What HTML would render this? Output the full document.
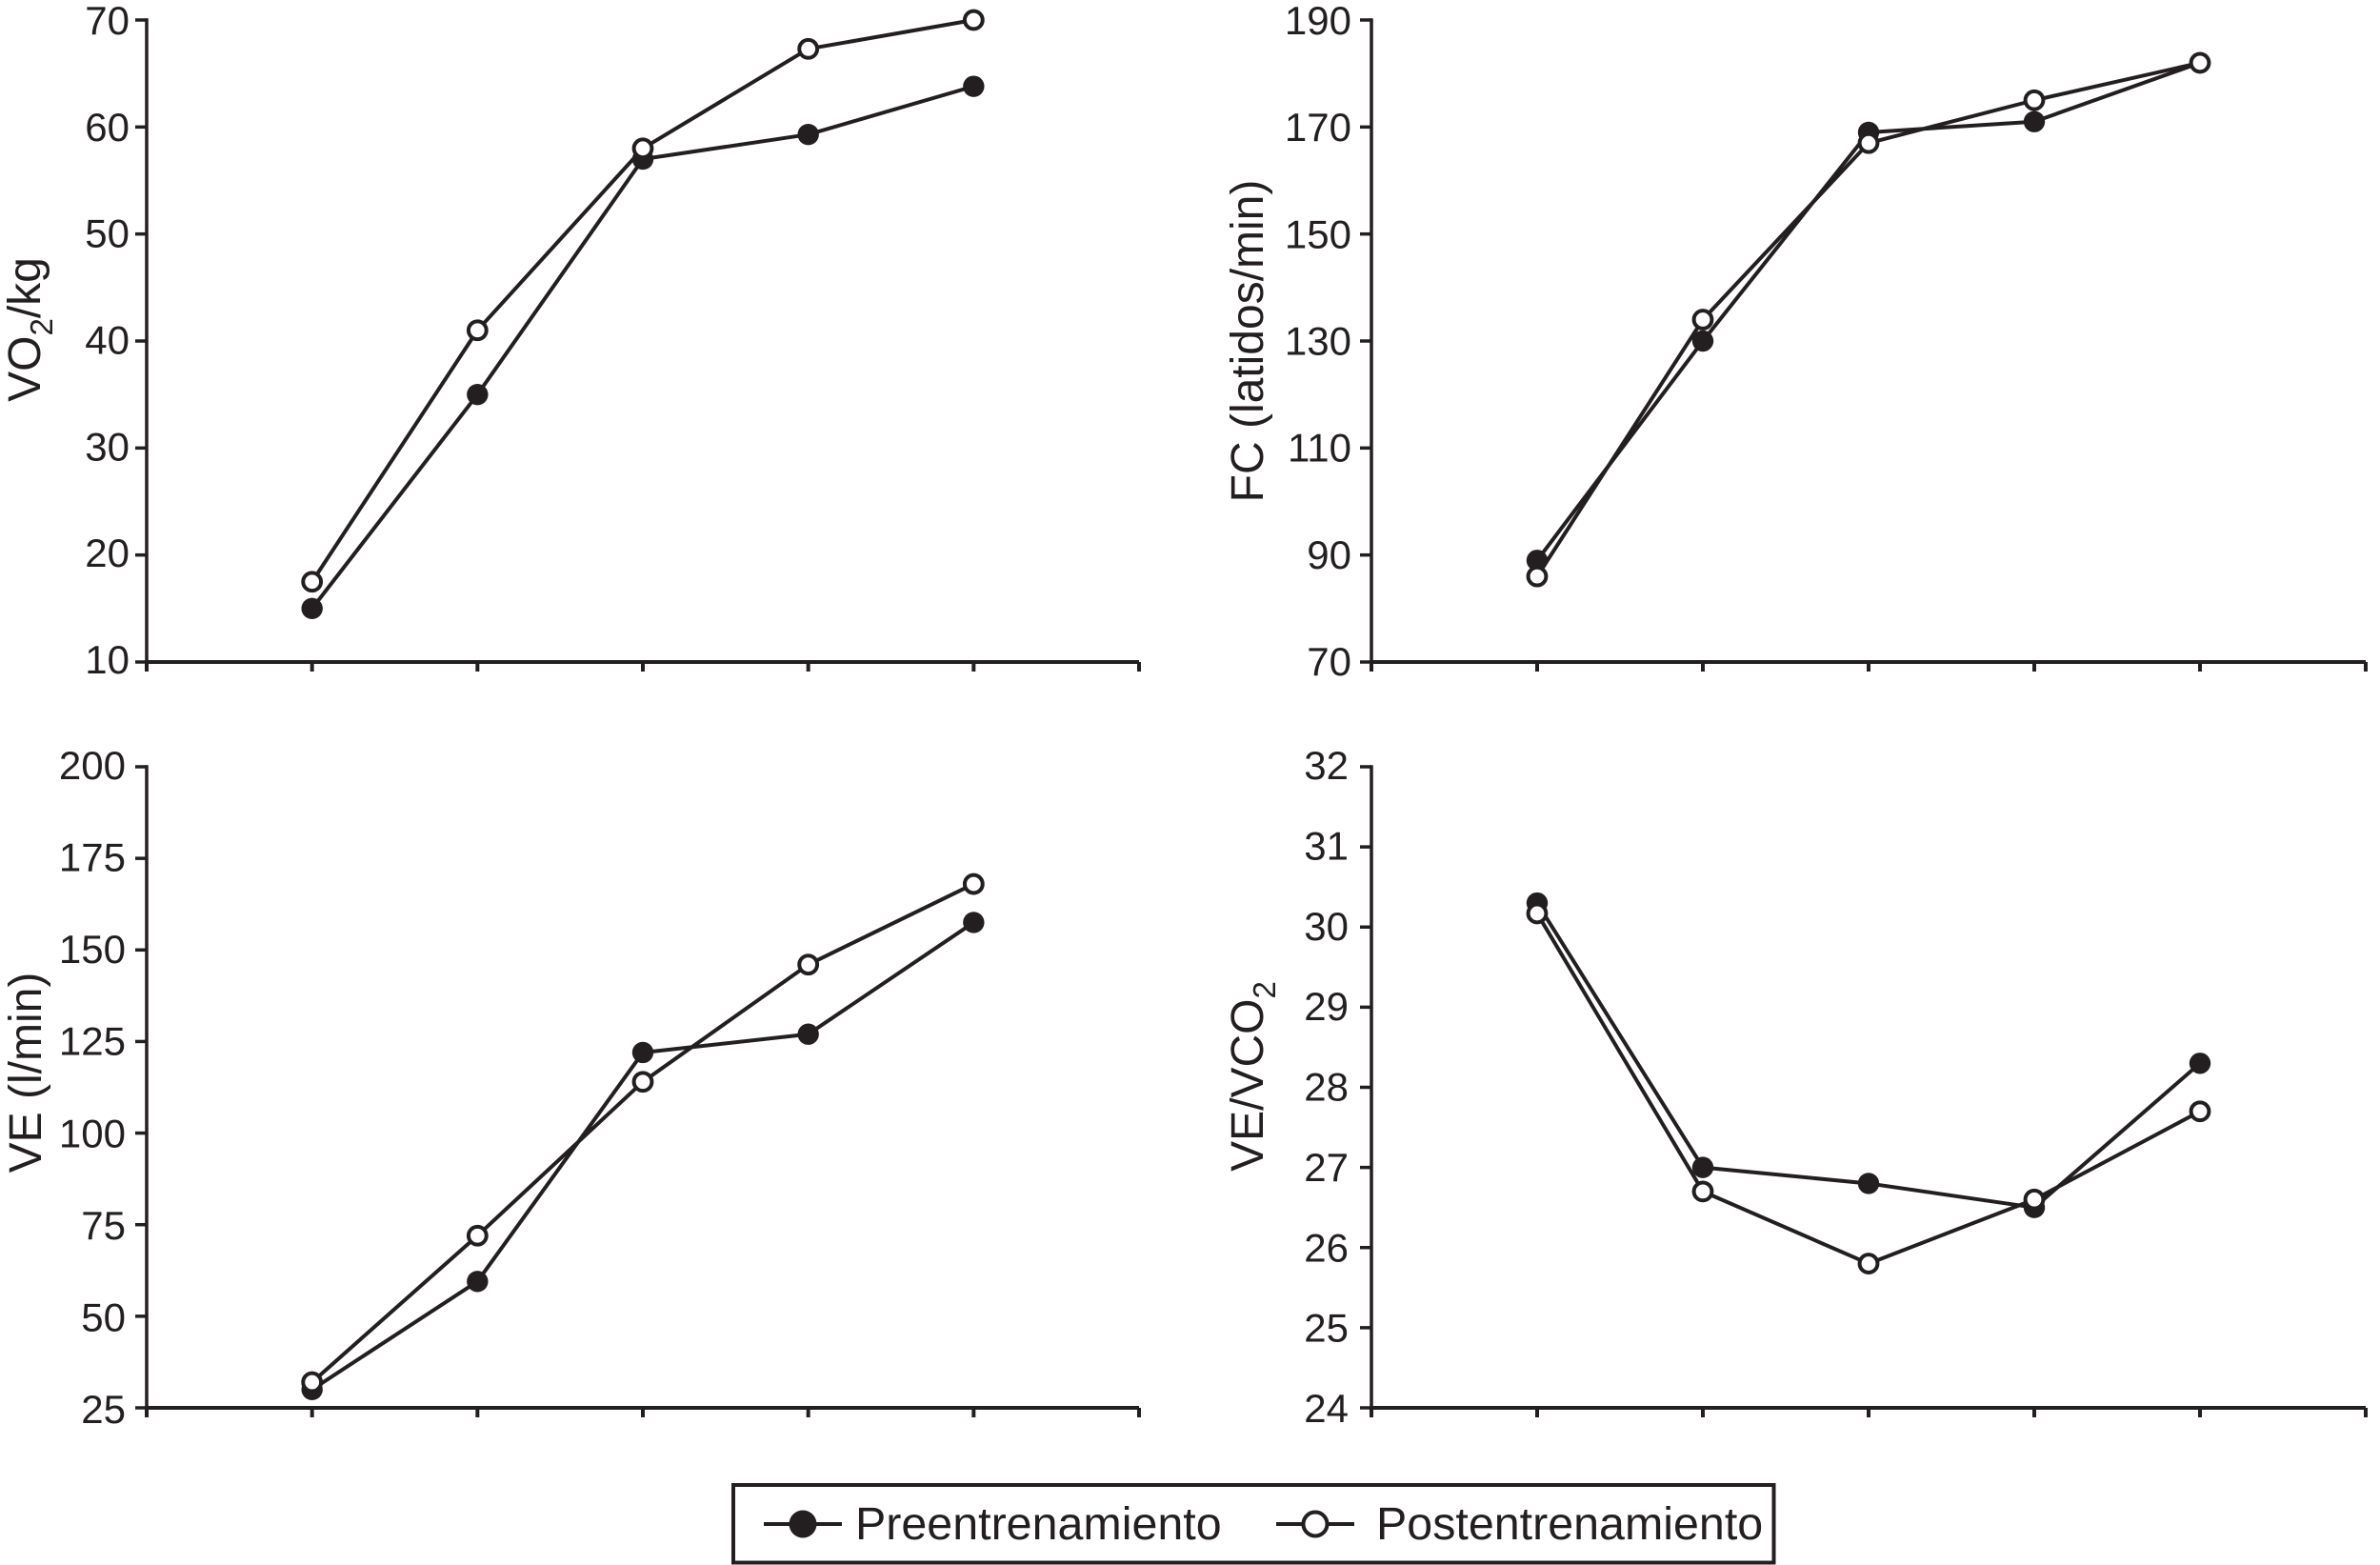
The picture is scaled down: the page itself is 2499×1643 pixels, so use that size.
<!DOCTYPE html>
<html lang="es">
<head>
<meta charset="utf-8">
<title>Preentrenamiento y postentrenamiento</title>
<style>
html,body{margin:0;padding:0;background:#fff}
svg{display:block;font-family:"Liberation Sans",sans-serif;fill:#231f20}
</style>
</head>
<body>
<svg id="chart" width="2499" height="1643" viewBox="0 0 2499 1643" xmlns="http://www.w3.org/2000/svg">
  <rect x="0" y="0" width="2499" height="1643" fill="#fff"/>
  <g id="panels"></g>
  <g>
    <rect x="770" y="1559" width="1092.5" height="81.5" fill="#fff" stroke="#231f20" stroke-width="4"/>
    <g>
      <line x1="802" y1="1600" x2="884" y2="1600" stroke="#231f20" stroke-width="4"/>
      <circle cx="843" cy="1600" r="14.5" fill="#231f20"/>
      <text x="898" y="1616" font-size="48.4">Preentrenamiento</text>
    </g>
    <g>
      <line x1="1340" y1="1600" x2="1422" y2="1600" stroke="#231f20" stroke-width="4"/>
      <circle cx="1381" cy="1600" r="12.5" fill="#fff" stroke="#231f20" stroke-width="4"/>
      <text x="1445" y="1616" font-size="48.4">Postentrenamiento</text>
    </g>
  </g>
</svg>
<script>
// Shared category positions along each x axis (stages of the test; unlabeled in the figure)
const stages = [1, 2, 3, 4, 5];

// Panel A: VO2/kg
const vo2Pre = [15, 35, 57, 59.3, 63.8];
const vo2Post = [17.5, 41, 58, 67.3, 70];
const vo2Ticks = [10, 20, 30, 40, 50, 60, 70];

// Panel B: FC (latidos/min)
const fcPre = [89, 130, 169, 171, 182];
const fcPost = [86, 134, 167, 175, 182];
const fcTicks = [70, 90, 110, 130, 150, 170, 190];

// Panel C: VE (l/min)
const vePre = [30, 59.5, 122, 127, 157.5];
const vePost = [32, 72, 114, 146, 168];
const veTicks = [25, 50, 75, 100, 125, 150, 175, 200];

// Panel D: VE/VCO2
const vevco2Pre = [30.3, 27, 26.8, 26.5, 28.3];
const vevco2Post = [30.17, 26.7, 25.8, 26.6, 27.7];
const vevco2Ticks = [24, 25, 26, 27, 28, 29, 30, 31, 32];

const NS = 'http://www.w3.org/2000/svg';
const INK = '#231f20';
const root = document.getElementById('panels');

function make(tag, attrs, parent) {
  const el = document.createElementNS(NS, tag);
  for (const k in attrs) el.setAttribute(k, attrs[k]);
  parent.appendChild(el);
  return el;
}

function drawPanel(p) {
  const g = make('g', {}, root);
  
  

  const yMin = p.ticks[0];
  const yMax = p.ticks[p.ticks.length - 1];
  const xScale = function (stage) { return p.x0 + (p.x1 - p.x0) * stage / (stages.length + 1); };
  const yScale = function (v) { return p.yBottom - (p.yBottom - p.yTop) * (v - yMin) / (yMax - yMin); };

  const yAxis = make('line', {x1: p.x0, x2: p.x0, y1: p.yTop - 1.75, y2: p.yBottom + 1.75, stroke: INK, 'stroke-width': 3.5}, g);
  
  

  const xAxis = make('line', {x1: p.x0 - 1.75, x2: p.x1, y1: p.yBottom, y2: p.yBottom, stroke: INK, 'stroke-width': 4}, g);
  
  

  p.ticks.forEach(function (t) {
    const y = yScale(t);
    const frac = (t - yMin) / (yMax - yMin);
    const tick = make('line', {x1: p.x0 - 12, x2: p.x0, y1: y, y2: y, stroke: INK, 'stroke-width': 3.5}, g);
    
    
    const label = make('text', {x: p.x0 - p.labelGap, y: y + p.baseBottom + (p.baseTop - p.baseBottom) * frac, 'text-anchor': 'end', 'font-size': 42}, g);
    label.textContent = String(t);
    
    
  });

  const xTickStages = [0].concat(stages, [stages.length + 1]);
  xTickStages.forEach(function (s) {
    const x = xScale(s);
    const tick = make('line', {x1: x, x2: x, y1: p.yBottom, y2: p.yBottom + 10, stroke: INK, 'stroke-width': 4}, g);
    
    
  });

  const title = make('text', {
    transform: 'translate(' + p.labelX + ',' + p.labelY + ') rotate(-90)',
    'text-anchor': 'middle',
    'font-size': 48
  }, g);
  
  
  p.title.forEach(function (part) {
    const span = make('tspan', part.sub ? {'font-size': 33, dy: 13} : (part.after ? {dy: -13} : {}), title);
    span.textContent = part.text;
  });

  [
    {name: 'pre', values: p.pre},
    {name: 'post', values: p.post}
  ].forEach(function (s) {
    const pts = s.values.map(function (v, i) { return xScale(stages[i]) + ',' + yScale(v); }).join(' ');
    const line = make('polyline', {points: pts, fill: 'none', stroke: INK, 'stroke-width': 4, 'stroke-linejoin': 'round'}, g);
    
    
  });

  p.pre.forEach(function (v, i) {
    const m = make('circle', {cx: xScale(stages[i]), cy: yScale(v), r: 11.2, fill: INK}, g);
    
    
  });
  p.post.forEach(function (v, i) {
    const m = make('circle', {cx: xScale(stages[i]), cy: yScale(v), r: 9.4, fill: '#fff', stroke: INK, 'stroke-width': 4}, g);
    
    
  });
}

drawPanel({
  id: 'vo2', x0: 154, x1: 1196, yTop: 21, yBottom: 695,
  ticks: vo2Ticks, pre: vo2Pre, post: vo2Post,
  labelGap: 18, baseTop: 15, baseBottom: 12,
  labelX: 42, labelY: 346,
  title: [{text: 'VO'}, {text: '2', sub: true}, {text: '/kg', after: true}]
});
drawPanel({
  id: 'fc', x0: 1440, x1: 2484, yTop: 21, yBottom: 695,
  ticks: fcTicks, pre: fcPre, post: fcPost,
  labelGap: 21, baseTop: 15, baseBottom: 14,
  labelX: 1326, labelY: 358,
  title: [{text: 'FC (latidos/min)'}]
});
drawPanel({
  id: 've', x0: 154, x1: 1196, yTop: 805, yBottom: 1478,
  ticks: veTicks, pre: vePre, post: vePost,
  labelGap: 22, baseTop: 13, baseBottom: 16,
  labelX: 43, labelY: 1126,
  title: [{text: 'VE (l/min)'}]
});
drawPanel({
  id: 'vevco2', x0: 1440, x1: 2484, yTop: 805, yBottom: 1478,
  ticks: vevco2Ticks, pre: vevco2Pre, post: vevco2Post,
  labelGap: 24, baseTop: 13, baseBottom: 15,
  labelX: 1326, labelY: 1130,
  title: [{text: 'VE/VCO'}, {text: '2', sub: true}]
});
</script>
</body>
</html>
